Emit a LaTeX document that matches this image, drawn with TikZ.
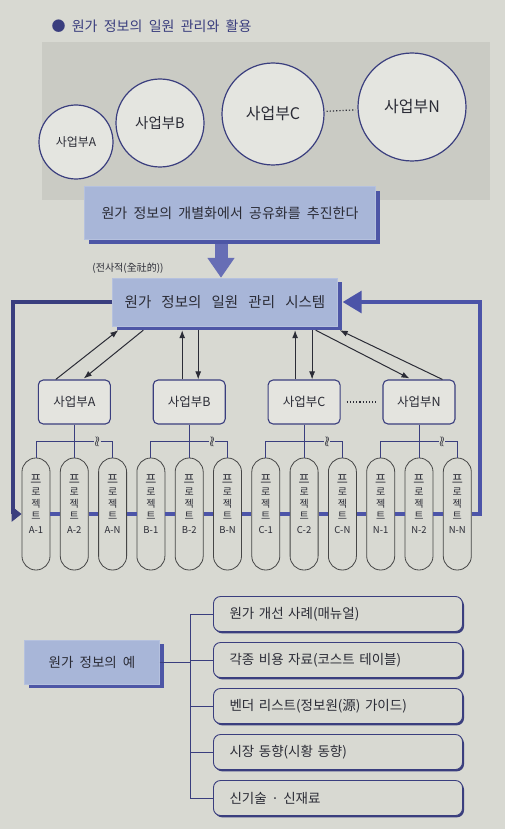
\documentclass[tikz,border=0pt]{standalone}
\usepackage{fontspec}
\setmainfont[WordSpace=2]{Noto Sans CJK KR}
\usepackage{tikz}
\usetikzlibrary{positioning,calc,arrows.meta,shadows}

\definecolor{pagebg}{HTML}{D8D9D2}
\definecolor{panelgray}{HTML}{CACBC4}
\definecolor{circlefill}{HTML}{E4E5E0}
\definecolor{boxblue}{HTML}{A8B6D8}
\definecolor{shadeblue}{HTML}{4D56A6}
\definecolor{linkblue}{HTML}{4C54A8}
\definecolor{inkblue}{HTML}{3A3E7E}
\definecolor{ink}{HTML}{2B2C36}

\newcommand{\fsz}[1]{\fontsize{#1}{#1}\selectfont}
\newcommand{\ptext}[1]{\fontsize{12}{13}\selectfont 프\\로\\젝\\트\\[2pt]{\fontsize{9.5}{10}\selectfont #1}\\[8pt]\mbox{}}

\begin{document}
\begin{tikzpicture}[x=1pt, y=-1pt,
		unitcircle/.style={circle, draw=inkblue, fill=circlefill, line width=1.2pt, text=ink},
		bluebox/.style={rectangle, fill=boxblue, draw=boxblue!85!white, text=ink, inner xsep=10pt,
			general shadow={fill=shadeblue, shadow xshift=4pt, shadow yshift=-4pt}},
		divbox/.style={rectangle, rounded corners=5pt, draw=inkblue, line width=1.1pt, fill=pagebg!70!white,
			minimum width=72pt, minimum height=44pt, text=ink, font=\fsz{12.5}},
		capsule/.style={rectangle, rounded corners=13.9pt, draw=gray!55!black, line width=0.8pt, fill=pagebg,
			minimum width=28pt, minimum height=112pt, inner sep=0pt, align=center, text=ink},
		itembox/.style={rectangle, rounded corners=7pt, draw=inkblue, line width=0.9pt, fill=pagebg,
			minimum height=35pt, text width=217pt, align=left, inner xsep=16pt, text=ink, font=\fsz{13.5},
			general shadow={fill=inkblue, shadow xshift=1.5pt, shadow yshift=-1.8pt}},
		cut/.style={fill=pagebg, inner xsep=0.3pt, inner ysep=0pt, text=ink, font=\fsz{15}},
		tree/.style={draw=inkblue, line width=1pt},
		feed/.style={draw=ink, line width=1pt, -{Latex[length=8pt,width=6pt]}},
		loopline/.style={draw=linkblue, line width=3.2pt},
		node distance=9.5pt
	]

	%Page
	\path[use as bounding box, fill=pagebg] (0,0) rectangle (505,829);
	\fill[panelgray] (42,42) rectangle (490,200);

	%Title and circles
	\node[text=inkblue, font=\fsz{14}, anchor=west] (title) at (48,26) {● 원가 정보의 일원 관리와 활용};
	\node[unitcircle, minimum size=74pt, font=\fsz{12}]	(cA) at (76,142)	{사업부A};
	\node[unitcircle, minimum size=88pt, font=\fsz{14.5}]		(cB) at (160,123)	{사업부B};
	\node[unitcircle, minimum size=102pt, font=\fsz{16}]		(cC) at (273,114)	{사업부C};
	\node[unitcircle, minimum size=108pt, font=\fsz{16}]		(cN) at (412,107)	{사업부N};
	\draw[ink, dotted, line width=1.2pt, shorten <=2pt, shorten >=2pt] (cC) -- (cN);

	%Boxes
	\node[bluebox, minimum width=291pt, minimum height=53pt, font=\fsz{14}] (goal) at (230,213) {원가 정보의 개별화에서 공유화를 추진한다};
	\node[text=ink, font=\fsz{10}] (note) at (128,268) {(전사적(全社的))};
	\node[bluebox, minimum width=225pt, minimum height=48pt, font=\fsz{14.5}] (sys) at (225,302)
		{{\spaceskip=0.7em\relax 원가 정보의 일원 관리 시스템}};

	%Projects
	\node[capsule] (p1) at (36,514) {\ptext{A-1}};
	\node[capsule] (p2) [right=of p1] {\ptext{A-2}};
	\node[capsule] (p3) [right=of p2] {\ptext{A-N}};
	\node[capsule] (p4) [right=of p3] {\ptext{B-1}};
	\node[capsule] (p5) [right=of p4] {\ptext{B-2}};
	\node[capsule] (p6) [right=of p5] {\ptext{B-N}};
	\node[capsule] (p7) [right=of p6] {\ptext{C-1}};
	\node[capsule] (p8) [right=of p7] {\ptext{C-2}};
	\node[capsule] (p9) [right=of p8] {\ptext{C-N}};
	\node[capsule] (p10) [right=of p9] {\ptext{N-1}};
	\node[capsule] (p11) [right=of p10] {\ptext{N-2}};
	\node[capsule] (p12) [right=of p11] {\ptext{N-N}};

	%Divisions
	\node[divbox] (dA) at (p2 |- 0,402) {사업부A};
	\node[divbox] (dB) at (p5 |- 0,402) {사업부B};
	\node[divbox] (dC) at (p8 |- 0,402) {사업부C};
	\node[divbox] (dN) at (p11 |- 0,402) {사업부N};
	\draw[ink, dotted, line width=1.2pt, shorten <=6pt, shorten >=6pt] (dC) -- (dN);

	%Division to projects
	\node[cut] (kA) at ($(p2.north)!0.6!(p3.north)+(0,-16)$) {$\wr\!\wr$};
	\node[cut] (kB) at ($(p5.north)!0.6!(p6.north)+(0,-16)$) {$\wr\!\wr$};
	\node[cut] (kC) at ($(p8.north)!0.6!(p9.north)+(0,-16)$) {$\wr\!\wr$};
	\node[cut] (kN) at ($(p11.north)!0.6!(p12.north)+(0,-16)$) {$\wr\!\wr$};
	\draw[tree] (dA.south) -- (p2.north);
	\draw[tree] (p1.north) |- (kA.west);
	\draw[tree] (kA.east) -| (p3.north);
	\draw[tree] (dB.south) -- (p5.north);
	\draw[tree] (p4.north) |- (kB.west);
	\draw[tree] (kB.east) -| (p6.north);
	\draw[tree] (dC.south) -- (p8.north);
	\draw[tree] (p7.north) |- (kC.west);
	\draw[tree] (kC.east) -| (p9.north);
	\draw[tree] (dN.south) -- (p11.north);
	\draw[tree] (p10.north) |- (kN.west);
	\draw[tree] (kN.east) -| (p12.north);

	%System to divisions
	\coordinate (sysfoot) at ($(sys.south)+(0,4)$);
	\draw[feed] ($(dA.north west)+(18,0)$) -- ($(sys.south west)+(6,4)$);
	\draw[feed] ($(sys.south west)+(31,4)$) -- ($(dA.north west)+(46,-1)$);
	\coordinate (b1) at ($(dB.north)+(-7,0)$);
	\coordinate (b2) at ($(dB.north)+(9,0)$);
	\draw[feed] (b1) -- (b1 |- sysfoot);
	\draw[feed] (b2 |- sysfoot) -- (b2);
	\coordinate (c1) at ($(dC.north)+(-9,0)$);
	\coordinate (c2) at ($(dC.north)+(8,0)$);
	\draw[feed] (c1) -- (c1 |- sysfoot);
	\draw[feed] (c2 |- sysfoot) -- (c2);
	\draw[feed] ($(sys.south east)+(-22,4)$) -- ($(dN.north west)+(27,-1)$);
	\draw[feed] ($(dN.north west)+(60,0)$) -- ($(sys.south east)+(2,4)$);

	%Lines
	\coordinate (a0) at ($(goal.south)+(-9,4)$);
	\draw[draw=linkblue!85!white, line width=13pt, -{Triangle[length=20pt,width=26pt]}] (a0) -- (a0 |- sys.north);
	\draw[loopline] (p1) -- (p2);
	\draw[loopline] (p2) -- (p3);
	\draw[loopline] (p3) -- (p4);
	\draw[loopline] (p4) -- (p5);
	\draw[loopline] (p5) -- (p6);
	\draw[loopline] (p6) -- (p7);
	\draw[loopline] (p7) -- (p8);
	\draw[loopline] (p8) -- (p9);
	\draw[loopline] (p9) -- (p10);
	\draw[loopline] (p10) -- (p11);
	\draw[loopline] (p11) -- (p12);
	\coordinate (lturn) at (13,514);
	\coordinate (rturn) at (480,514);
	\coordinate (sysright) at ($(sys.east)+(5,0)$);
	\draw[loopline, draw=inkblue, -{Triangle[length=10pt,width=15pt]}] (sys.west) -| (lturn) -- (p1);
	\draw[loopline, -{Triangle[length=19pt,width=22pt]}] (p12) -- (rturn) |- (sysright);

	%Examples
	\node[bluebox, minimum width=135pt, minimum height=44pt, font=\fsz{13.5}] (ex) at (92,662) {원가 정보의 예};
	\node[itembox] (i1) at (338,614) {원가 개선 사례(매뉴얼)};
	\node[itembox] (i2) at (338,660) {각종 비용 자료(코스트 테이블)};
	\node[itembox] (i3) at (338,706) {벤더 리스트(정보원(源) 가이드)};
	\node[itembox] (i4) at (338,752) {시장 동향(시황 동향)};
	\node[itembox] (i5) at (338,798) {신기술 · 신재료};
	\coordinate (bt) at ($(i1.west)+(-23,0)$);
	\coordinate (bb) at ($(i5.west)+(-23,0)$);
	\draw[tree] (bt) -- (bb);
	\draw[tree] (ex.east) -- (ex.east -| bt);
	\draw[tree] (i1.west) -- (bt);
	\draw[tree] (i2.west) -- (i2.west -| bt);
	\draw[tree] (i3.west) -- (i3.west -| bt);
	\draw[tree] (i4.west) -- (i4.west -| bt);
	\draw[tree] (i5.west) -- (bb);

\end{tikzpicture}
\end{document}
